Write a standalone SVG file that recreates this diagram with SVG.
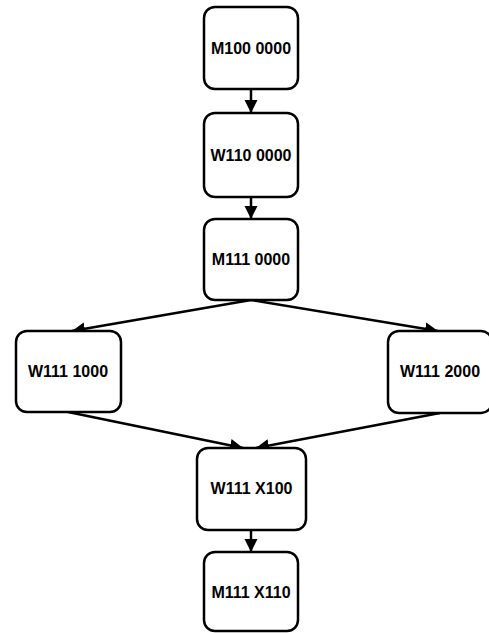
<svg xmlns="http://www.w3.org/2000/svg" width="489" height="633" viewBox="0 0 489 633">
<style>
.box{fill:#fff;stroke:#000;stroke-width:2.5}
.lbl{font-family:"Liberation Sans",Arial,sans-serif;font-weight:bold;font-size:16px;fill:#000;text-anchor:middle}
.edge{stroke:#000;stroke-width:2.5;fill:none;marker-end:url(#ah)}
</style>
<defs>
<marker id="ah" markerUnits="userSpaceOnUse" markerWidth="14" markerHeight="14" refX="13" refY="7" orient="auto">
<path d="M0,0.5 L13,7 L0,13.5 z" fill="#000"/>
</marker>
</defs>
<rect width="489" height="633" fill="#fff"/>
<g id="edges">
<line class="edge" x1="251" y1="89" x2="251" y2="113"/>
<line class="edge" x1="251" y1="197" x2="251" y2="219"/>
<line class="edge" x1="251" y1="300" x2="72" y2="331"/>
<line class="edge" x1="251" y1="300" x2="438" y2="331"/>
<line class="edge" x1="68" y1="412" x2="243" y2="448"/>
<line class="edge" x1="440" y1="413" x2="256" y2="448"/>
<line class="edge" x1="251" y1="530" x2="251" y2="552"/>
</g>
<g id="n1"><rect class="box" x="204" y="7" width="94" height="82" rx="11"/><text class="lbl" x="251" y="53.5">M100 0000</text></g>
<g id="n2"><rect class="box" x="204" y="113" width="94" height="84" rx="11"/><text class="lbl" x="251" y="160.5">W110 0000</text></g>
<g id="n3"><rect class="box" x="204" y="219" width="94" height="81" rx="11"/><text class="lbl" x="251" y="265">M111 0000</text></g>
<g id="n4"><rect class="box" x="16" y="331" width="105" height="81" rx="11"/><text class="lbl" x="68" y="377">W111 1000</text></g>
<g id="n5"><rect class="box" x="388" y="331" width="104" height="82" rx="11"/><text class="lbl" x="440" y="377">W111 2000</text></g>
<g id="n6"><rect class="box" x="197" y="448" width="109" height="82" rx="11"/><text class="lbl" x="251.5" y="494">W111 X100</text></g>
<g id="n7"><rect class="box" x="204" y="552" width="94" height="79" rx="11"/><text class="lbl" x="251" y="598">M111 X110</text></g>
</svg>
